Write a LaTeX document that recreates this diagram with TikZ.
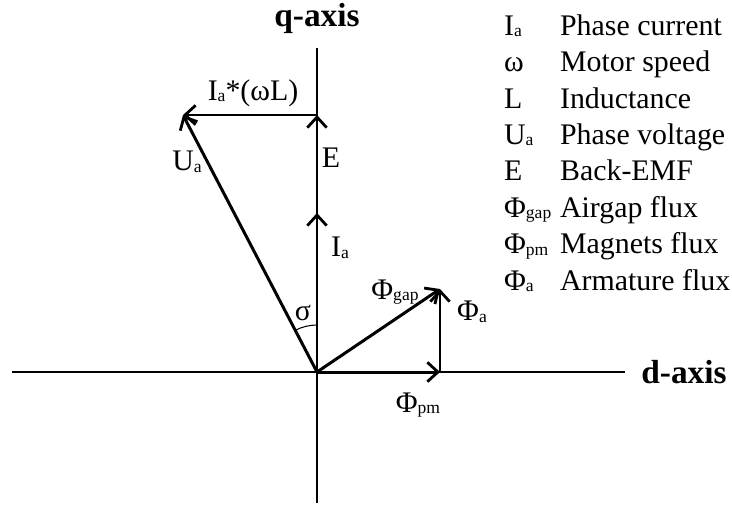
\documentclass[tikz,border=0pt]{standalone}
\usepackage{fontspec}
\setmainfont{Liberation Serif}
\usepackage{tikz}
\usetikzlibrary{arrows.meta,positioning}
\newcommand{\sbs}[1]{\raisebox{-1pt}{\fontsize{10}{10}\selectfont #1}}
\begin{document}
\begin{tikzpicture}[
  axis/.style={line width=1.1pt, black},
  vec/.style={line width=1.7pt, -{Straight Barb[length=6pt,width=11pt,line width=1.6pt]}},
  lbl/.style={font=\fontsize{17}{20}\selectfont, inner sep=1pt},
  axlbl/.style={font=\fontsize{19}{22}\selectfont\bfseries, inner sep=1pt},
  sym/.style={lbl, anchor=base west},
  desc/.style={lbl, anchor=base west}
]
  \useasboundingbox (-6.34,-2.68) rectangle (8.30,7.44);

  % axes
  \coordinate (O)  at (0,0);
  \coordinate (dl) at (-6.10,0);
  \coordinate (dr) at (6.16,0);
  \coordinate (qt) at (0,6.48);
  \coordinate (qb) at (0,-2.62);
  \draw[axis] (dl) -- (dr);
  \draw[axis] (qb) -- (qt);
  \node[axlbl] (qaxis) at (0,7.08) {q-axis};
  \node[axlbl] (daxis) at (7.34,0) {d-axis};

  % vector tips
  \coordinate (Ia)   at (0,3.18);
  \coordinate (E)    at (0,5.14);
  \coordinate (Ua)   at (-2.68,5.14);
  \coordinate (Fpm)  at (2.46,0);
  \coordinate (Fgap) at (2.46,1.66);

  \draw[vec] (O) -- (Ia);
  \draw[vec] (Ia) -- (E);
  \draw[vec] (E) -- (Ua);
  \draw[vec] (O) -- (Ua);
  \draw[vec] (O) -- (Fpm);
  \draw[vec] (Fpm) -- (Fgap);
  \draw[vec] (O) -- (Fgap);

  % angle
  \draw[line width=0.6pt] (0,0.94) arc[start angle=90, end angle=117.5, radius=0.94];

  \node[lbl] (lwl)   at (-1.28,5.58) {I\sbs{a}*(ωL)};
  \node[lbl] (lua)   at (-2.60,4.20) {U\sbs{a}};
  \node[lbl] (le)    at (0.28,4.28)  {E};
  \node[lbl] (lia)   at (0.46,2.48)  {I\sbs{a}};
  \node[lbl] (lsig)  at (-0.28,1.18) {σ};
  \node[lbl] (lgap)  at (1.56,1.60)  {Φ\sbs{gap}};
  \node[lbl] (lfa)   at (3.10,1.20)  {Φ\sbs{a}};
  \node[lbl] (lfpm)  at (2.02,-0.66) {Φ\sbs{pm}};

  % legend
  \node[sym] (s1) at (3.70,6.74) {I\sbs{a}};
  \node[sym] (s2) at (3.70,6.01) {ω};
  \node[sym] (s3) at (3.70,5.28) {L};
  \node[sym] (s4) at (3.70,4.56) {U\sbs{a}};
  \node[sym] (s5) at (3.70,3.83) {E};
  \node[sym] (s6) at (3.70,3.10) {Φ\sbs{gap}};
  \node[sym] (s7) at (3.70,2.37) {Φ\sbs{pm}};
  \node[sym] (s8) at (3.70,1.64) {Φ\sbs{a}};
  \node[desc] (d1) at (4.82,6.74) {Phase current};
  \node[desc] (d2) at (4.82,6.01) {Motor speed};
  \node[desc] (d3) at (4.82,5.28) {Inductance};
  \node[desc] (d4) at (4.82,4.56) {Phase voltage};
  \node[desc] (d5) at (4.82,3.83) {Back-EMF};
  \node[desc] (d6) at (4.82,3.10) {Airgap flux};
  \node[desc] (d7) at (4.82,2.37) {Magnets flux};
  \node[desc] (d8) at (4.82,1.64) {Armature flux};
\end{tikzpicture}
\end{document}
